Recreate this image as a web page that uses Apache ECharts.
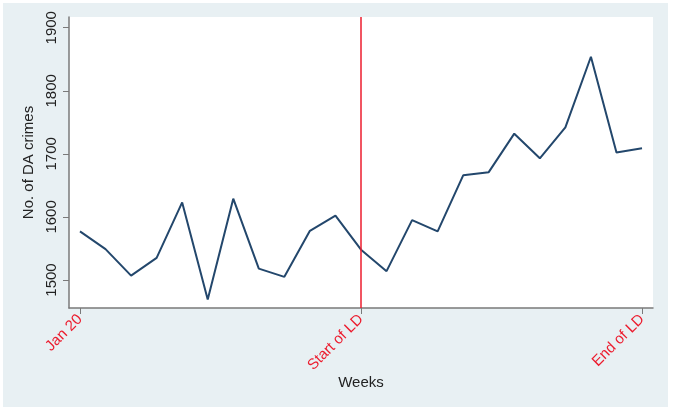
<!DOCTYPE html>
<html>
<head>
<meta charset="utf-8">
<script src="https://cdn.jsdelivr.net/npm/echarts@6/dist/echarts.min.js"></script>
<style>
html,body{margin:0;padding:0;background:#fff;}
#c{width:674px;height:411px;}
</style>
</head>
<body>
<div id="c"></div>
<script>
const weeks = [0,1,2,3,4,5,6,7,8,9,10,11,12,13,14,15,16,17,18,19,20,21,22];
const crimes = [1577,1549,1507,1535,1623,1469,1629,1518,1505,1578,1602,1548,1514,1595,1577,1666,1671,1732,1693,1742,1854,1702,1709];
const xTickPos = [0,11,22];
const xTickLabels = ['Jan 20','Start of LD','End of LD'];
const yTicks = [1500,1600,1700,1800,1900];
const lockdownStart = 11;

const chart = echarts.init(document.getElementById('c'), null, {renderer:'canvas'});
const red = '#ec1c2e';
const axisGray = '#7a7a7a';
chart.setOption({
  backgroundColor:'#ffffff',
  animation:false,
  graphic:[{type:'rect', z:-10, silent:true, shape:{x:3,y:3,width:665,height:404}, style:{fill:'#e8f0f3'}}],
  grid:{left:69, right:21, top:17, bottom:103, show:true, backgroundColor:'#ffffff', borderWidth:0},
  xAxis:{
    type:'value', min:-0.43, max:22.43,
    name:'Weeks', nameLocation:'middle', nameGap:67, nameMoveOverlap:false,
    nameTextStyle:{fontFamily:'Liberation Sans, Arial', fontSize:15, color:'#222'},
    axisLine:{show:true, onZero:false, lineStyle:{color:axisGray, width:1.5}},
    axisTick:{show:true, length:6, lineStyle:{color:axisGray}, customValues:xTickPos},
    axisLabel:{show:true, rotate:45, margin:9, color:red, fontFamily:'Liberation Sans, Arial', fontSize:15,
      customValues:xTickPos,
      formatter:function(v){const i=xTickPos.indexOf(Math.round(v)); return i>=0?xTickLabels[i]:'';}},
    splitLine:{show:false}
  },
  yAxis:{
    type:'value', min:1455.6, max:1917,
    name:'No. of DA crimes', nameLocation:'middle', nameGap:31, nameRotate:90,
    nameTextStyle:{fontFamily:'Liberation Sans, Arial', fontSize:15, color:'#222'},
    axisLine:{show:true, onZero:false, lineStyle:{color:axisGray, width:1.5}},
    axisTick:{show:true, length:6, lineStyle:{color:axisGray}, customValues:yTicks},
    axisLabel:{show:true, rotate:90, margin:10, color:'#222', fontFamily:'Liberation Sans, Arial', fontSize:15,
      customValues:yTicks, formatter:function(v){return String(Math.round(v));}},
    splitLine:{show:false}
  },
  series:[{
    type:'line',
    data:weeks.map((w,i)=>[w,crimes[i]]),
    showSymbol:false, symbol:'none',
    lineStyle:{color:'#23476c', width:2},
    markLine:{silent:true, symbol:'none', label:{show:false},
      lineStyle:{color:red, width:1.5, type:'solid'},
      data:[{xAxis:lockdownStart}]}
  }]
});
</script>
</body>
</html>
